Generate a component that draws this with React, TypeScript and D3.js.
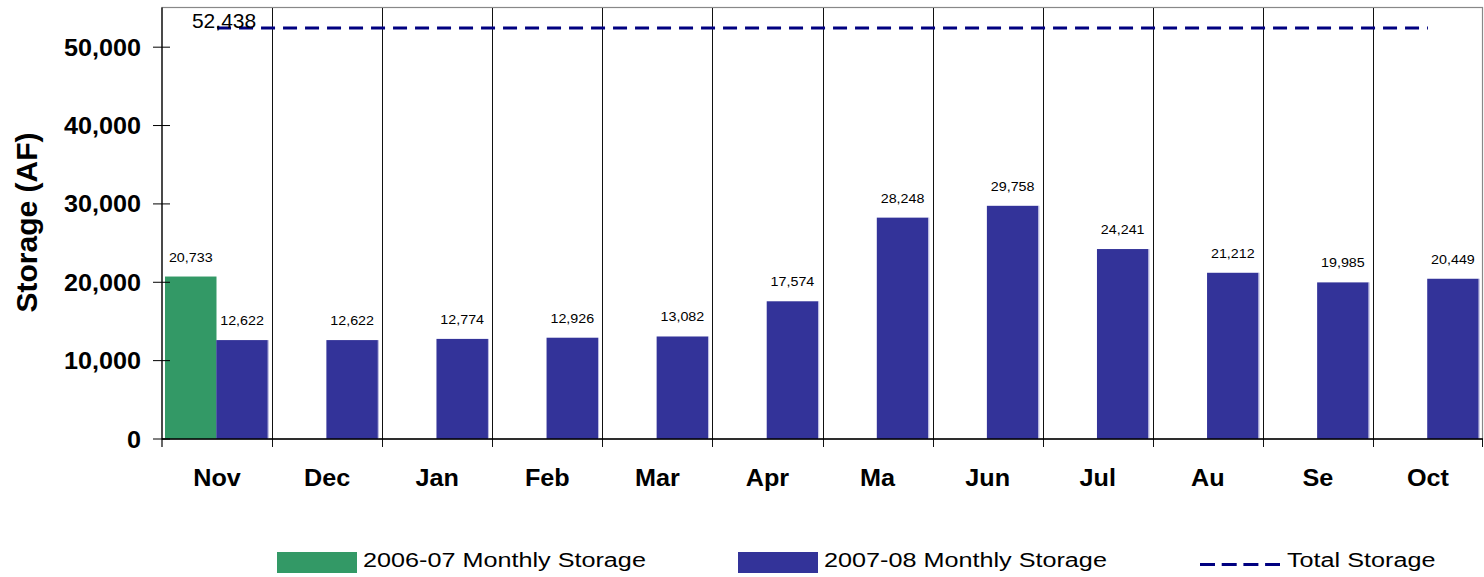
import React from "react";
import * as d3 from "d3";

const months = ["Nov", "Dec", "Jan", "Feb", "Mar", "Apr", "Ma", "Jun", "Jul", "Au", "Se", "Oct"];
const prevMonths = ["Nov"];
const prevValues = [20733];
const currValues = [12622, 12622, 12774, 12926, 13082, 17574, 28248, 29758, 24241, 21212, 19985, 20449];
const totalStorage = 52438;
const yTicks = [0, 10000, 20000, 30000, 40000, 50000];
const legendLabels = ["2006-07 Monthly Storage", "2007-08 Monthly Storage", "Total Storage"];

const W = 1484;
const H = 577;
const left = 162;
const right = 1483;
const top = 8;
const bottom = 439;
const GREEN = "#339966";
const BLUE = "#333399";
const NAVY = "#000080";
const FONT = "'Liberation Sans', Arial, Helvetica, sans-serif";

const fmt = d3.format(",");

function T({ x, y, sx = 1, anchor = "start", size, bold = false, children, rotate = 0 }: any) {
  const tr = `translate(${x},${y})${rotate ? ` rotate(${rotate})` : ""} scale(${sx},1)`;
  return (
    <text
      transform={tr}
      textAnchor={anchor}
      fontSize={size}
      fontWeight={bold ? "bold" : "normal"}
      fontFamily={FONT}
      fill="#000"
    >
      {children}
    </text>
  );
}

export default function App() {
  const x = d3.scaleBand<string>().domain(months).range([left, right]).padding(0);
  const y = d3.scaleLinear().domain([0, 55000]).range([bottom, top]);
  const bw = x.bandwidth();
  const barW = 51.5;
  const prevOff = 3;
  const currOff = 54.3;

  const boundaries = months.map((m) => x(m)!).concat([right]);
  const lineX1 = x(months[0])! + bw / 2;
  const lineX2 = x(months[months.length - 1])! + bw / 2;
  const lineY = y(totalStorage);
  const linePath = d3.line()([
    [lineX1, lineY],
    [lineX2, lineY],
  ]);

  return (
    <svg
      width={W}
      height={H}
      style={{ position: "absolute", left: 0, top: 0, background: "#fff" }}
    >
      <rect x={0} y={0} width={W} height={H} fill="#fff" />
      {/* plot border */}
      <rect x={left} y={7.5} width={right - left - 0.5} height={bottom - 7.5} fill="none" stroke="#888" strokeWidth={1.2} />
      {/* vertical category separators */}
      {boundaries.slice(1, -1).map((b, i) => (
        <line key={"g" + i} x1={Math.round(b) + 0.5} x2={Math.round(b) + 0.5} y1={8} y2={bottom + 8} stroke="#111" strokeWidth={1} />
      ))}
      <line x1={right - 0.5} x2={right - 0.5} y1={bottom} y2={bottom + 8} stroke="#111" strokeWidth={1} />
      {/* bars 2006-07 */}
      {prevMonths.map((m, i) => (
        <rect key={"p" + m} x={x(m)! + prevOff} y={y(prevValues[i])} width={barW} height={bottom - y(prevValues[i])} fill={GREEN} />
      ))}
      {/* bars 2007-08 */}
      {months.map((m, i) => (
        <g key={"c" + m}>
          <rect x={x(m)! + currOff} y={y(currValues[i])} width={barW} height={bottom - y(currValues[i])} fill={BLUE} />
          <line x1={x(m)! + currOff + barW + 0.5} x2={x(m)! + currOff + barW + 0.5} y1={y(currValues[i])} y2={bottom} stroke="#b8b8e0" strokeWidth={1} />
        </g>
      ))}
      {/* value labels */}
      {prevMonths.map((m, i) => (
        <T key={"pl" + m} x={x(m)! + prevOff + barW / 2} y={y(prevValues[i]) - 15} anchor="middle" size={13} sx={1.1}>
          {fmt(prevValues[i])}
        </T>
      ))}
      {months.map((m, i) => (
        <T key={"cl" + m} x={x(m)! + currOff + barW / 2} y={y(currValues[i]) - 15} anchor="middle" size={13} sx={1.1}>
          {fmt(currValues[i])}
        </T>
      ))}
      {/* total storage line */}
      <path d={linePath!} stroke={NAVY} strokeWidth={3} strokeDasharray="14,8" fill="none" />
      <T x={lineX1 + 7} y={lineY} anchor="middle" size={21}>
        {fmt(totalStorage)}
      </T>
      {/* axes */}
      <line x1={left} x2={right} y1={bottom} y2={bottom} stroke="#000" strokeWidth={1.5} />
      <line x1={left} x2={left} y1={7.5} y2={bottom + 8} stroke="#000" strokeWidth={1.2} />
      {yTicks.map((t) => (
        <g key={"yt" + t}>
          <line x1={153} x2={170} y1={y(t)} y2={y(t)} stroke="#000" strokeWidth={1} />
          <T x={141} y={y(t) + 8.5} anchor="end" size={24} bold sx={1.05}>
            {fmt(t)}
          </T>
        </g>
      ))}
      {months.map((m) => (
        <T key={"xl" + m} x={x(m)! + bw / 2} y={486} anchor="middle" size={24} bold sx={1.05}>
          {m}
        </T>
      ))}
      <T x={37} y={222.5} anchor="middle" size={30} bold rotate={-90}>
        Storage (AF)
      </T>
      {/* legend */}
      <rect x={277} y={552} width={80} height={21} fill={GREEN} />
      <T x={363} y={567} size={21} sx={1.2}>{legendLabels[0]}</T>
      <rect x={738} y={552} width={80} height={21} fill={BLUE} />
      <T x={824} y={567} size={21} sx={1.2}>{legendLabels[1]}</T>
      <line x1={1200} x2={1280} y1={564.5} y2={564.5} stroke={NAVY} strokeWidth={3} strokeDasharray="15,6.7" />
      <T x={1287} y={567} size={21} sx={1.2}>{legendLabels[2]}</T>
    </svg>
  );
}
